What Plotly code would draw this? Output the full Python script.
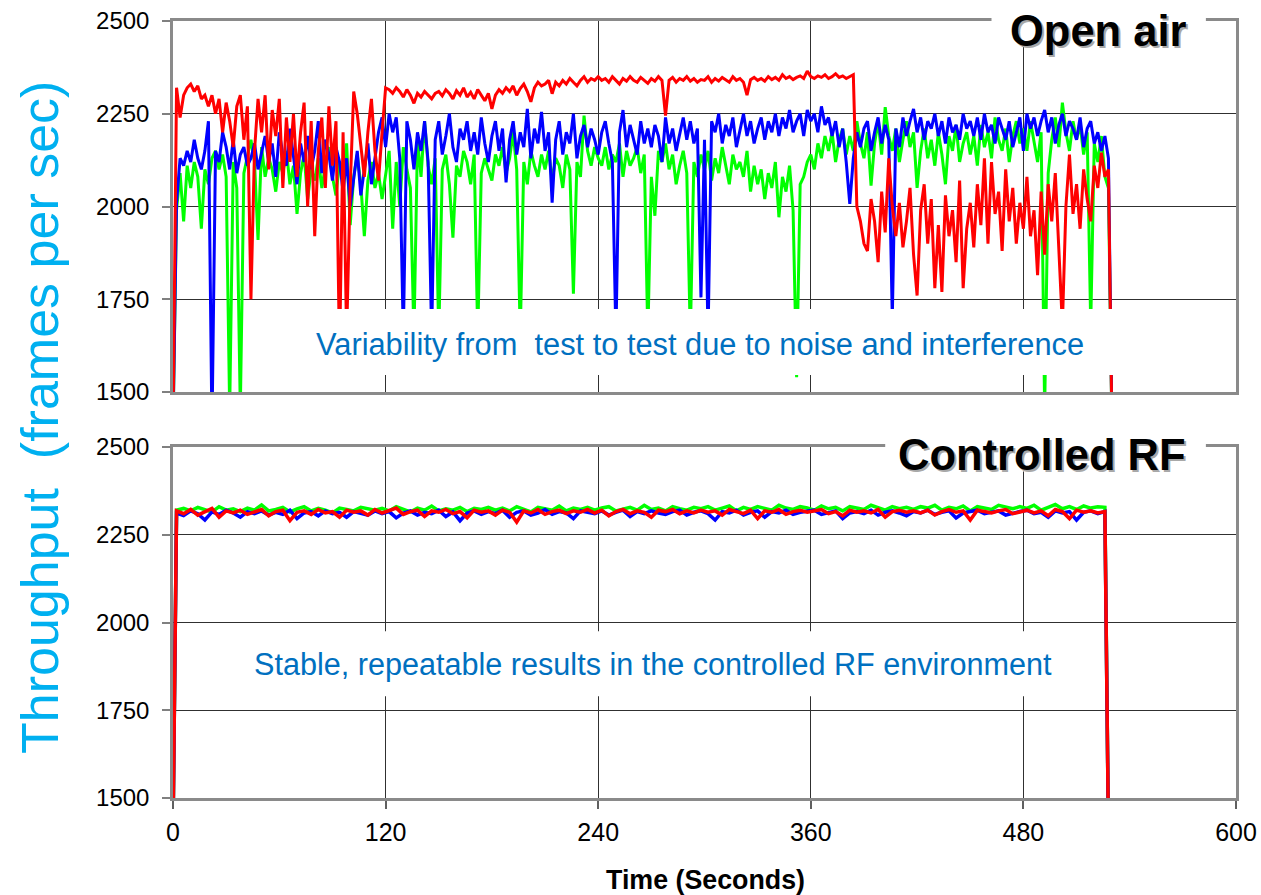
import plotly.graph_objects as go

# ---------------- data ----------------
# top panel ("Open air"): one value every 2 s (t = 0, 2..528, 530)
T_TOP = [0] + list(range(2, 529, 2)) + [530]
# bottom panel ("Controlled RF"): one value every 4 s (t = 0, 2..526, 528)
T_BOT = [0] + list(range(2, 530, 4)) + [528]

RED_TOP = [
    1400, 2320, 2240, 2300, 2320, 2330, 2310, 2325, 2290, 2300, 2270, 2300, 2250, 2290, 2200,
    2280, 2230, 2160, 2270, 2300, 2180, 2270, 1750, 2150, 2290, 2200, 2300, 2100, 2260, 2190,
    2290, 2050, 2240, 2120, 2250, 2080, 2200, 2280, 2000, 2230, 1920, 2150, 2240, 2050, 2270,
    2110, 2230, 1600, 2200, 1650, 2050, 2310, 2250, 2160, 2080, 2200, 2290, 2150, 2070, 2200,
    2320, 2315, 2305, 2320, 2310, 2295, 2315, 2300, 2278, 2305, 2295, 2310, 2300, 2290, 2305,
    2310, 2298, 2315, 2305, 2290, 2312, 2300, 2320, 2295, 2308, 2290, 2315, 2300, 2285, 2305,
    2263, 2300, 2315, 2305, 2320, 2310, 2325, 2300, 2318, 2330, 2310, 2282, 2320, 2335, 2325,
    2330, 2340, 2304, 2335, 2325, 2340, 2330, 2345, 2335, 2325, 2340, 2350, 2335, 2345, 2340,
    2350, 2340, 2345, 2335, 2350, 2340, 2330, 2345, 2338, 2350, 2340, 2335, 2348, 2340, 2332,
    2345, 2338, 2350, 2340, 2245, 2340, 2348, 2335, 2345, 2340, 2350, 2338, 2345, 2335, 2342,
    2340, 2350, 2335, 2345, 2338, 2348, 2342, 2335, 2350, 2340, 2345, 2335, 2300, 2342, 2348,
    2340, 2345, 2338, 2350, 2342, 2348, 2340, 2355, 2345, 2350, 2342, 2348, 2352, 2345, 2365,
    2350, 2345, 2352, 2348, 2355, 2345, 2350, 2358, 2348, 2352, 2345, 2350, 2355, 2000, 1960,
    1900, 1880, 2020, 1960, 1850, 2040, 1930, 2130, 2000, 1920, 2010, 1890, 1960, 2050, 1870,
    1760, 1990, 2060, 1900, 2020, 1780, 1950, 1770, 2030, 1920, 1990, 1850, 2070, 1780, 1940,
    2010, 1890, 2060, 1950, 2130, 1900, 2120, 1980, 2040, 1880, 2100, 1960, 2050, 1900, 2010,
    1940, 2080, 1920, 1990, 1815, 2040, 1870, 2060, 1960, 2090, 1900, 1680, 2000, 2140, 1980,
    2060, 1940, 2100, 2020, 1960, 2110, 2050, 2145, 2080, 2100, 1400,
]

BLUE_TOP = [
    1400, 2010, 2130, 2110, 2150, 2120, 2180, 2130, 2100, 2150, 2230, 1400, 2150, 2120, 2200,
    2160, 2100, 2180, 2090, 2140, 2160, 2110, 2130, 2170, 2100, 2150, 2190, 2120, 2170, 2080,
    2200, 2140, 2110, 2210, 2130, 2060, 2170, 2120, 2190, 2100, 2150, 2230, 2090, 2180, 2140,
    2070, 2160, 2120, 2040, 2130, 2000, 2080, 2150, 2030, 2100, 2170, 2060, 2130, 2200, 2240,
    2160, 2250, 2200, 2240, 2130, 1650, 2230, 2180, 2100, 2200, 2150, 2230, 2120, 1650, 2180,
    2230, 2140, 2190, 2250, 2160, 2120, 2210, 2180, 2230, 2150, 2200, 2140, 2240, 2170, 2120,
    2190, 2230, 2150, 2210, 2065, 2180, 2230, 2140, 2200, 2160, 2263, 2130, 2210, 2170, 2255,
    2150, 2200, 2010, 2180, 2230, 2140, 2200, 2170, 2250, 2130, 2190, 2220, 2160, 2210, 2180,
    2140, 2200, 2230, 2170, 2120, 1650, 2200, 2260, 2160, 2220, 2180, 2140, 2230, 2170, 2210,
    2160, 2220, 2190, 2120, 2240, 2170, 2210, 2150, 2200, 2240, 2180, 2230, 2170, 2210, 1755,
    2180, 1650, 2230, 2200, 2250, 2170, 2220, 2190, 2240, 2160, 2210, 2250, 2190, 2230, 2170,
    2210, 2240, 2180, 2230, 2200, 2250, 2190, 2240, 2210, 2260, 2200, 2230, 2250, 2190, 2260,
    2230, 2250, 2200, 2270, 2220, 2240, 2190, 2230, 2160, 2210, 2120, 2007, 2130, 2200, 2160,
    2210, 2230, 2150, 2200, 2240, 2170, 2220, 2180, 1700, 2210, 2160, 2240, 2190, 2230, 2263,
    2200, 2240, 2180, 2230, 2210, 2250, 2190, 2230, 2170, 2240, 2200, 2220, 2180, 2250, 2210,
    2230, 2190, 2240, 2180, 2250, 2200, 2220, 2170, 2240, 2210, 2180, 2230, 2160, 2200, 2240,
    2150, 2250, 2210, 2240, 2190, 2230, 2260, 2200, 2240, 2170, 2220, 2250, 2190, 2230, 2210,
    2180, 2240, 2160, 2210, 2230, 2170, 2200, 2150, 2190, 2130, 1400,
]

GREEN_TOP = [
    1400, 1990, 2090, 1960, 2110, 2050, 2120, 2080, 1940, 2100, 2060, 2130, 2150, 2100, 2140,
    2080, 1450, 2120, 2050, 1450, 2090, 2140, 2180, 2120, 1910, 2160, 2080, 2130, 2100, 2040,
    2120, 2090, 2150, 2060, 2110, 1980, 2090, 2140, 2020, 2100, 2070, 2130, 2050, 2110, 2160,
    2080, 2030, 2120, 2100, 2170, 1950, 2080, 2140, 2060, 1920, 2070, 2120, 2050, 2090, 2020,
    2080, 2150, 1940, 2120, 2000, 2160, 2100, 2050, 1650, 2180, 2080, 2230, 2110, 2060, 2130,
    1650, 2100, 2140, 2060, 1916, 2110, 2080, 2150, 2120, 2060, 2140, 1650, 2090, 2130, 2100,
    2070, 2140, 2110, 2160, 2090, 2130, 2200, 2100, 1650, 2120, 2060, 2150, 2110, 2080, 2140,
    2100, 2150, 2070, 2130, 2110, 2050, 2140, 2100, 1765, 2120, 2080, 2245, 2150, 2110, 2160,
    2130, 2110, 2160, 2100, 2140, 2120, 2170, 2080, 2150, 2110, 2130, 2160, 2090, 2140, 1650,
    2080, 1975, 2150, 2120, 2170, 2100, 2140, 2060, 2110, 2150, 2090, 1650, 2120, 2080, 2140,
    2100, 2150, 2070, 2130, 2090, 2160, 2110, 2060, 2140, 2100, 2120, 2080, 2150, 2040, 2110,
    2060, 2100, 2020, 2090, 2050, 2120, 1971, 2080, 2040, 2110, 1990, 1540, 2060, 2080, 2120,
    2140, 2100, 2170, 2130, 2190, 2150, 2200, 2120, 2180, 2210, 2140, 2190, 2150, 2230, 2170,
    2130, 2200, 2056, 2170, 2230, 2140, 2268, 2190, 2150, 2210, 2120, 2180, 2230, 2160, 2200,
    2050, 2150, 2210, 2130, 2180, 2110, 2200, 2140, 2060, 2190, 2150, 2220, 2120, 2170, 2200,
    2140, 2190, 2110, 2220, 2160, 2200, 2130, 2240, 2180, 2150, 2210, 2120, 2190, 2230, 2170,
    2210, 2150, 2230, 2180, 2120, 2200, 1450, 2090, 2180, 2240, 2160, 2280, 2200, 2150, 2230,
    2180, 2220, 2140, 2200, 1680, 2170, 2120, 2190, 2080, 2050, 1400,
]

GREEN_BOT = [
    1400, 2320, 2325, 2318, 2328, 2322, 2315, 2330, 2320, 2324, 2316, 2326, 2320, 2335, 2318,
    2322, 2328, 2315, 2324, 2330, 2318, 2325, 2320, 2312, 2326, 2322, 2318, 2328, 2324, 2320,
    2325, 2318, 2330, 2322, 2315, 2326, 2320, 2332, 2318, 2324, 2320, 2328, 2316, 2325, 2322,
    2328, 2320, 2326, 2318, 2330, 2322, 2315, 2328, 2324, 2320, 2332, 2318, 2326, 2322, 2328,
    2320, 2326, 2330, 2318, 2324, 2328, 2320, 2334, 2322, 2326, 2318, 2330, 2324, 2320, 2328,
    2324, 2330, 2320, 2326, 2332, 2318, 2328, 2322, 2330, 2325, 2320, 2334, 2326, 2322, 2330,
    2326, 2320, 2332, 2324, 2328, 2318, 2330, 2325, 2322, 2334, 2326, 2320, 2330, 2324, 2328,
    2322, 2330, 2326, 2334, 2320, 2328, 2324, 2332, 2318, 2330, 2326, 2322, 2334, 2328, 2324,
    2330, 2325, 2334, 2320, 2328, 2336, 2324, 2330, 2322, 2332, 2326, 2330, 2328, 1400,
]

BLUE_BOT = [
    1400, 2312, 2305, 2318, 2310, 2292, 2315, 2308, 2320, 2312, 2300, 2316, 2310, 2318, 2306,
    2314, 2308, 2320, 2296, 2312, 2316, 2304, 2318, 2310, 2314, 2300, 2316, 2312, 2306, 2318,
    2310, 2316, 2298, 2312, 2318, 2306, 2314, 2310, 2320, 2302, 2315, 2290, 2312, 2318, 2308,
    2316, 2310, 2320, 2300, 2314, 2318, 2306, 2312, 2322, 2308, 2316, 2312, 2296, 2318, 2314,
    2310, 2318, 2306, 2314, 2320, 2302, 2316, 2310, 2318, 2312, 2308, 2316, 2320, 2306, 2314,
    2318, 2310, 2292, 2316, 2312, 2320, 2306, 2314, 2318, 2300, 2316, 2312, 2320, 2308, 2314,
    2316, 2320, 2308, 2314, 2318, 2296, 2312, 2316, 2310, 2320, 2306, 2314, 2318, 2312, 2304,
    2316, 2312, 2320, 2308, 2314, 2318, 2298, 2312, 2316, 2320, 2310, 2314, 2318, 2306, 2312,
    2316, 2320, 2310, 2314, 2300, 2318, 2312, 2316, 2292, 2314, 2318, 2310, 2316, 1400,
]

RED_BOT = [
    1400, 2318, 2310, 2322, 2306, 2316, 2325, 2300, 2318, 2312, 2320, 2308, 2315, 2322, 2304,
    2316, 2320, 2290, 2314, 2318, 2308, 2322, 2312, 2316, 2300, 2320, 2314, 2318, 2306, 2322,
    2312, 2318, 2326, 2308, 2316, 2320, 2302, 2318, 2314, 2322, 2310, 2316, 2298, 2320, 2314,
    2318, 2306, 2320, 2314, 2286, 2318, 2312, 2322, 2308, 2316, 2320, 2310, 2318, 2314, 2322,
    2312, 2320, 2304, 2316, 2322, 2310, 2318, 2314, 2300, 2320, 2316, 2322, 2310, 2318, 2312,
    2320, 2314, 2318, 2306, 2322, 2316, 2310, 2320, 2296, 2318, 2314, 2322, 2308, 2316, 2320,
    2314, 2318, 2322, 2310, 2316, 2304, 2320, 2314, 2318, 2312, 2322, 2300, 2316, 2320, 2314,
    2318, 2312, 2320, 2306, 2316, 2322, 2314, 2318, 2292, 2320, 2316, 2312, 2318, 2322, 2310,
    2316, 2320, 2312, 2318, 2304, 2322, 2316, 2296, 2320, 2314, 2318, 2312, 2316, 1400,
]

X_TICKS = [0, 120, 240, 360, 480, 600]
Y_TICKS = [1500, 1750, 2000, 2250, 2500]

# ---------------- figure ----------------
fig = go.Figure()

def add_series(t, vals, color, xa, ya, width):
    n = min(len(t), len(vals))
    fig.add_trace(go.Scatter(x=t[:n], y=vals[:n], mode="lines",
                             line=dict(color=color, width=width),
                             xaxis=xa, yaxis=ya, showlegend=False, hoverinfo="skip"))

add_series(T_TOP, GREEN_TOP, "#00FF00", "x", "y", 3)
add_series(T_TOP, BLUE_TOP, "#0000FF", "x", "y", 3)
add_series(T_TOP, RED_TOP, "#FF0000", "x", "y", 3)
add_series(T_BOT, GREEN_BOT, "#00FF00", "x2", "y2", 3.5)
add_series(T_BOT, BLUE_BOT, "#0000FF", "x2", "y2", 3.5)
add_series(T_BOT, RED_BOT, "#FF0000", "x2", "y2", 3.5)

FONT = "Arial, Liberation Sans, sans-serif"
W, H = 1261, 895
L_MARGIN, R_MARGIN = 173, 25
T_MARGIN, B_MARGIN = 21, 97
PLOT_H = H - T_MARGIN - B_MARGIN
PLOT_W = W - L_MARGIN - R_MARGIN

def py(px):
    return (H - B_MARGIN - px) / PLOT_H

def pxx(px):
    return (px - L_MARGIN) / PLOT_W

common_x = dict(range=[0, 600], tickvals=X_TICKS, showgrid=True, gridcolor="#303030",
                gridwidth=1, showline=True, linecolor="#8a8a8a", linewidth=2.5,
                mirror=True, zeroline=False, domain=[0, 1], automargin=False)
common_y = dict(range=[1500, 2500], tickvals=Y_TICKS, ticktext=[str(v) for v in Y_TICKS],
                showgrid=True, gridcolor="#303030", gridwidth=1, showline=True,
                linecolor="#8a8a8a", linewidth=2.5, mirror=True, zeroline=False,
                ticks="outside", ticklen=8, tickwidth=1.5, tickcolor="#808080",
                tickfont=dict(family=FONT, size=24, color="black"), ticklabelstandoff=8,
                automargin=False)

fig.update_layout(
    width=W, height=H,
    margin=dict(l=L_MARGIN, r=R_MARGIN, t=T_MARGIN, b=B_MARGIN),
    paper_bgcolor="white", plot_bgcolor="white", showlegend=False,
    xaxis=dict(common_x, anchor="y", showticklabels=False, ticks=""),
    yaxis=dict(common_y, anchor="x", domain=[py(392), 1]),
    xaxis2=dict(common_x, anchor="y2", showticklabels=True, ticks="outside", ticklen=8,
                tickwidth=1.5, tickcolor="#606060",
                tickfont=dict(family=FONT, size=25, color="black"), ticklabelstandoff=2),
    yaxis2=dict(common_y, anchor="x2", domain=[0, py(447)]),
)

shapes = [
    # white box interrupting the top border for the titles
    dict(type="rect", xref="x", yref="y domain", x0=462, x1=583, y0=0.93, y1=1.06,
         fillcolor="white", line=dict(width=0), layer="above"),
    dict(type="rect", xref="x2", yref="y2 domain", x0=402, x1=583, y0=0.93, y1=1.06,
         fillcolor="white", line=dict(width=0), layer="above"),
    # white text boxes
    dict(type="rect", xref="x", yref="y", x0=65, x1=540, y0=1546, y1=1724,
         fillcolor="white", line=dict(width=0), layer="above"),
    dict(type="rect", xref="x2", yref="y2", x0=40, x1=500, y0=1790, y1=1975,
         fillcolor="white", line=dict(width=0), layer="above"),
]
fig.update_layout(shapes=shapes)

ann = []
for txt, xref, yref, x, y in [("Open air", "x", "y domain", 522.6, 0.973),
                              ("Controlled RF", "x2", "y2 domain", 490.4, 0.977)]:
    ann.append(dict(text="<b>%s</b>" % txt, xref=xref, yref=yref, x=x, y=y, showarrow=False,
                    xanchor="center", yanchor="middle", xshift=2, yshift=-2,
                    font=dict(family=FONT, size=43.5, color="#a8a8a8")))
    ann.append(dict(text="<b>%s</b>" % txt, xref=xref, yref=yref, x=x, y=y, showarrow=False,
                    xanchor="center", yanchor="middle",
                    font=dict(family=FONT, size=43.5, color="black")))

ann.append(dict(text="Variability from&nbsp; test to test due to noise and interference",
                xref="x", yref="y", x=297.7, y=1627, showarrow=False,
                xanchor="center", yanchor="middle",
                font=dict(family=FONT, size=30.8, color="#0070C0")))
ann.append(dict(text="Stable, repeatable results in the controlled RF environment",
                xref="x2", yref="y2", x=271, y=1881, showarrow=False,
                xanchor="center", yanchor="middle",
                font=dict(family=FONT, size=30.6, color="#0070C0")))
ann.append(dict(text="Throughput&nbsp; (frames per sec)", xref="paper", yref="paper",
                x=pxx(40), y=py(418), textangle=-90, showarrow=False,
                xanchor="center", yanchor="middle",
                font=dict(family=FONT, size=52, color="#00B0F0")))
ann.append(dict(text="<b>Time (Seconds)</b>", xref="paper", yref="paper",
                x=pxx(705), y=py(880), showarrow=False,
                xanchor="center", yanchor="middle",
                font=dict(family=FONT, size=26.8, color="black")))
fig.update_layout(annotations=ann)

fig.write_html("out.html")
